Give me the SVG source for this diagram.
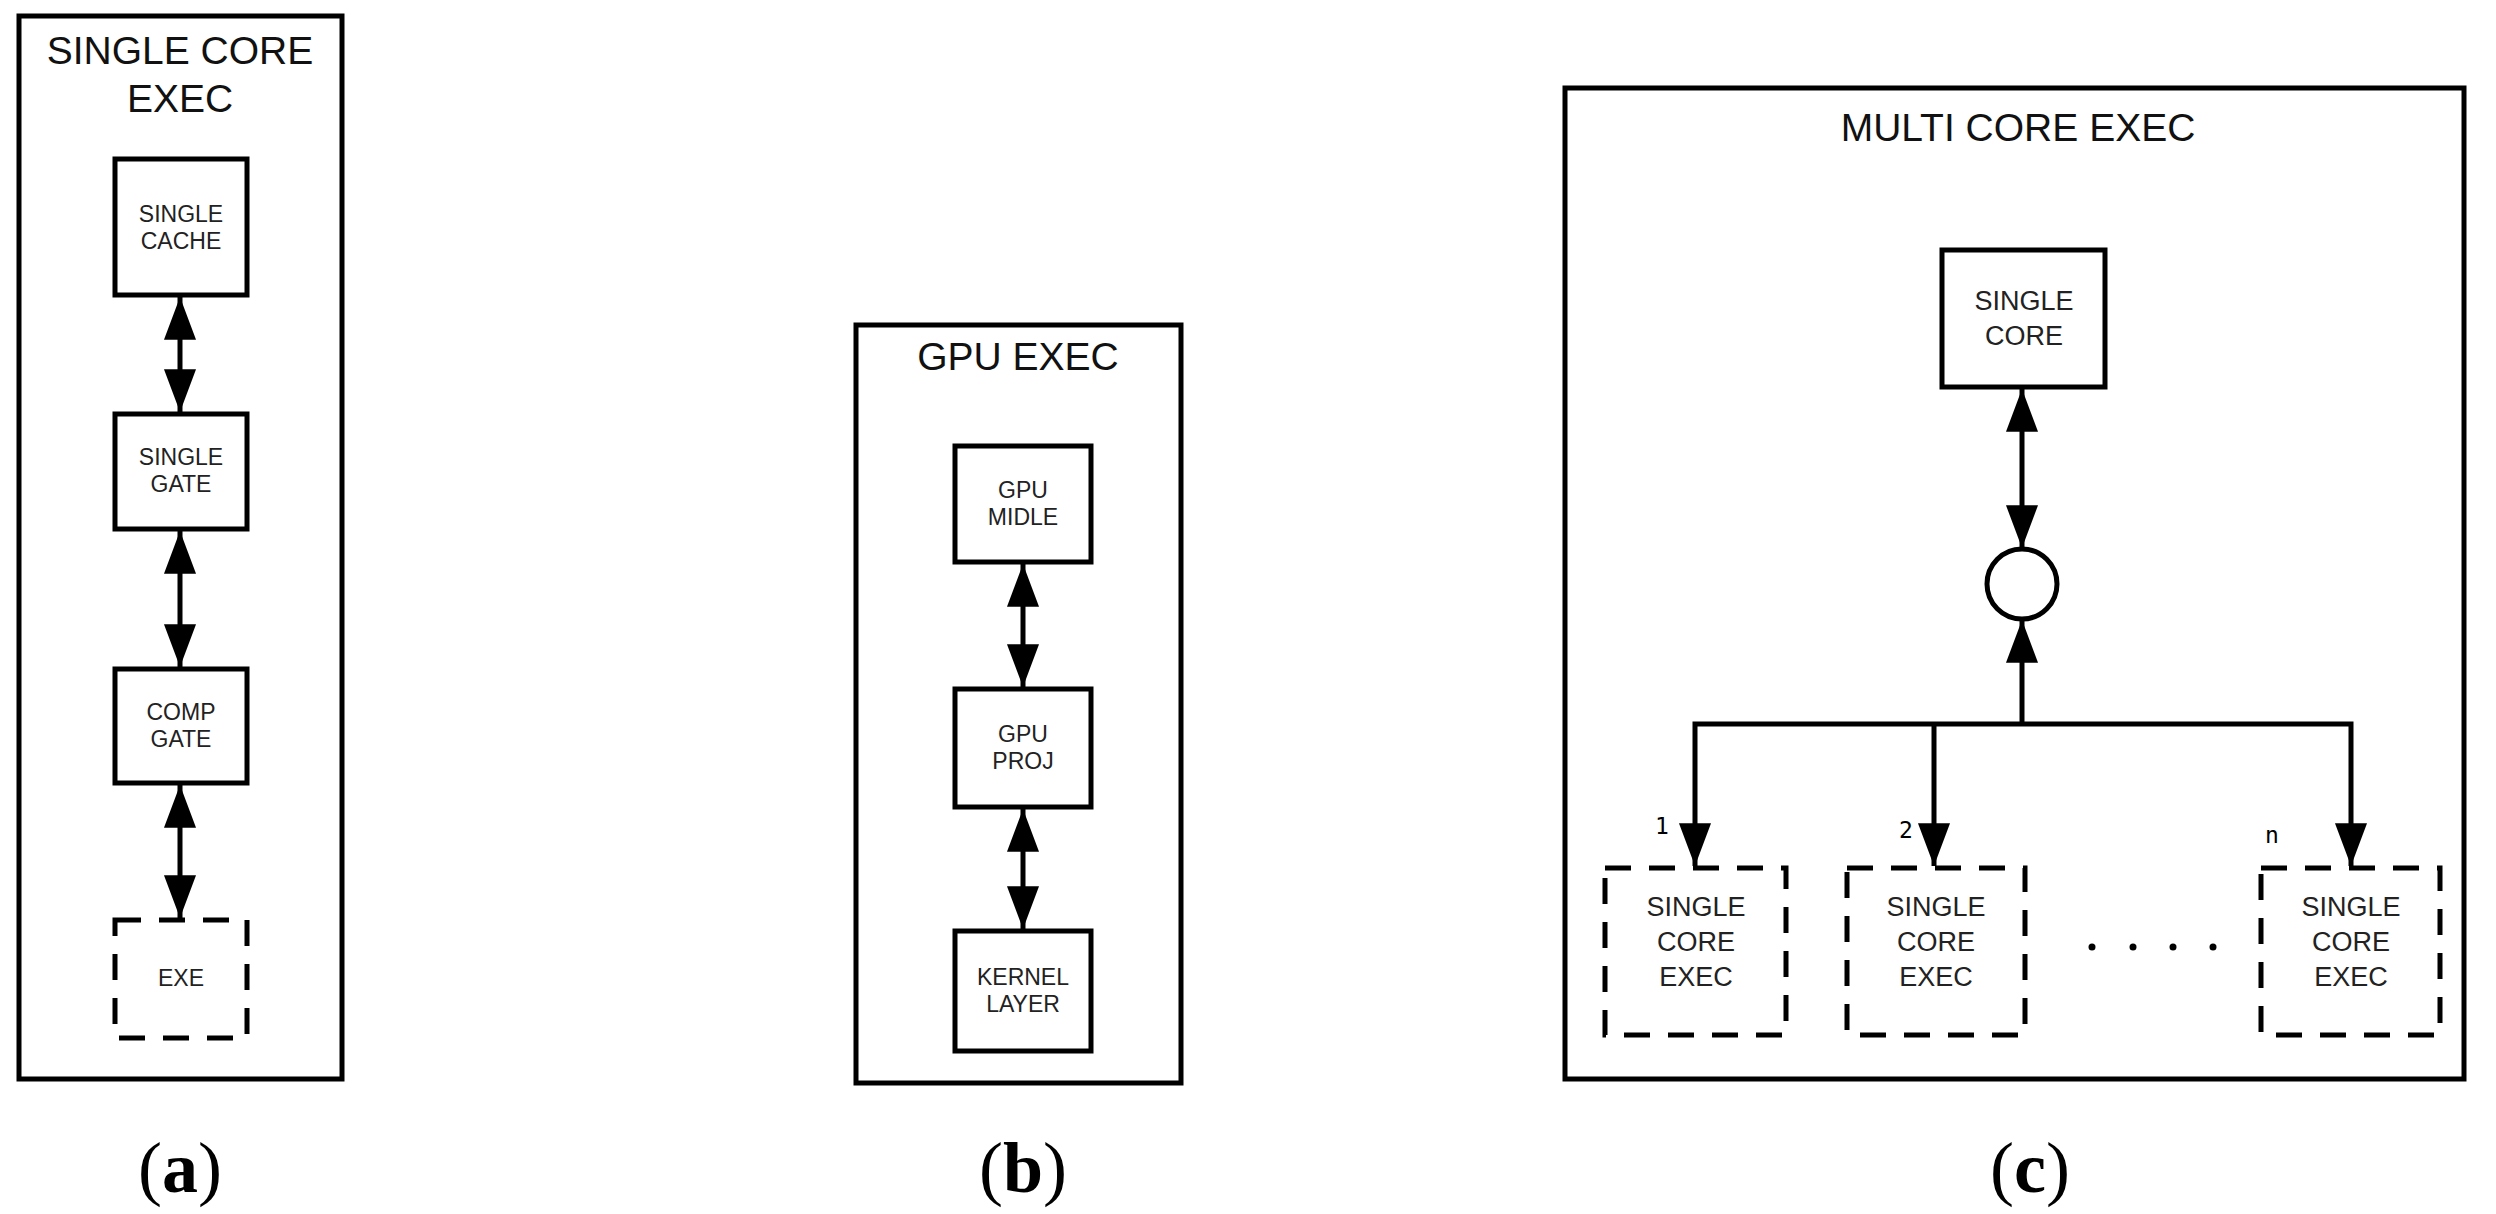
<svg xmlns="http://www.w3.org/2000/svg" width="2496" height="1214" viewBox="0 0 2496 1214">
<style>
.frame{fill:#fff;stroke:#000;stroke-width:5}
.box{fill:#fff;stroke:#000;stroke-width:5}
.dash{fill:#fff;stroke:#000;stroke-width:5;stroke-dasharray:26 18}
.t{font-family:"Liberation Sans",Arial,sans-serif;font-size:23px;fill:#222;text-anchor:middle}
.t2{font-family:"Liberation Sans",Arial,sans-serif;font-size:27px;fill:#222;text-anchor:middle}
.title{font-family:"Liberation Sans",Arial,sans-serif;font-size:39px;fill:#111;text-anchor:middle}
.num{font-family:"DejaVu Sans Mono",monospace;font-size:23px;fill:#000;text-anchor:middle}
.cap{font-family:"Liberation Serif",serif;font-size:72px;fill:#000;text-anchor:middle}
.ln{fill:none;stroke:#000;stroke-width:5}
</style>
<defs>
<marker id="ah" markerUnits="userSpaceOnUse" markerWidth="44" markerHeight="32" refX="40" refY="15" orient="auto-start-reverse" viewBox="0 0 40 30">
<path d="M0,0 L40,15 L0,30 Z" fill="#000"/>
</marker>
</defs>
<rect width="2496" height="1214" fill="#fff"/>
<g id="panel-a">
<rect class="frame" x="19" y="16" width="323" height="1063"/>
<text class="title" x="180" y="64">SINGLE CORE</text>
<text class="title" x="180" y="112">EXEC</text>
</g>
<g id="single-cache"><rect class="box" x="115" y="159" width="132" height="136"/><text class="t" x="181" y="222">SINGLE</text><text class="t" x="181" y="249">CACHE</text></g>
<g id="single-gate"><rect class="box" x="115" y="414" width="132" height="115"/><text class="t" x="181" y="465">SINGLE</text><text class="t" x="181" y="492">GATE</text></g>
<g id="comp-gate"><rect class="box" x="115" y="669" width="132" height="114"/><text class="t" x="181" y="720">COMP</text><text class="t" x="181" y="747">GATE</text></g>
<g id="exe"><rect class="dash" x="115" y="920" width="132" height="118"/><text class="t" x="181" y="986">EXE</text></g>
<g id="panel-b">
<rect class="frame" x="856" y="325" width="325" height="758"/>
<text class="title" x="1018" y="370">GPU EXEC</text>
</g>
<g id="gpu-midle"><rect class="box" x="955" y="446" width="136" height="116"/><text class="t" x="1023" y="498">GPU</text><text class="t" x="1023" y="525">MIDLE</text></g>
<g id="gpu-proj"><rect class="box" x="955" y="689" width="136" height="118"/><text class="t" x="1023" y="742">GPU</text><text class="t" x="1023" y="769">PROJ</text></g>
<g id="kernel-layer"><rect class="box" x="955" y="931" width="136" height="120"/><text class="t" x="1023" y="985">KERNEL</text><text class="t" x="1023" y="1012">LAYER</text></g>
<g id="panel-c">
<rect class="frame" x="1565" y="88" width="899" height="991"/>
<text class="title" x="2018" y="141">MULTI CORE EXEC</text>
</g>
<g id="single-core"><rect class="box" x="1942" y="250" width="163" height="137"/><text class="t2" x="2024" y="310">SINGLE</text><text class="t2" x="2024" y="345">CORE</text></g>
<g id="junction"><circle cx="2022" cy="584" r="35" fill="#fff" stroke="#000" stroke-width="5"/></g>
<g id="sce-1"><rect class="dash" x="1605" y="868" width="181" height="167"/><text class="t2" x="1696" y="916">SINGLE</text><text class="t2" x="1696" y="951">CORE</text><text class="t2" x="1696" y="986">EXEC</text></g>
<g id="sce-2"><rect class="dash" x="1847" y="868" width="178" height="167"/><text class="t2" x="1936" y="916">SINGLE</text><text class="t2" x="1936" y="951">CORE</text><text class="t2" x="1936" y="986">EXEC</text></g>
<g id="sce-n"><rect class="dash" x="2261" y="868" width="179" height="167"/><text class="t2" x="2351" y="916">SINGLE</text><text class="t2" x="2351" y="951">CORE</text><text class="t2" x="2351" y="986">EXEC</text></g>
<g id="dots" fill="#000"><circle cx="2092" cy="947" r="3.5"/><circle cx="2133" cy="947" r="3.5"/><circle cx="2173" cy="947" r="3.5"/><circle cx="2213" cy="947" r="3.5"/></g>
<g id="connectors">
<line class="ln" x1="180" y1="297" x2="180" y2="412" marker-start="url(#ah)" marker-end="url(#ah)"/>
<line class="ln" x1="180" y1="531" x2="180" y2="667" marker-start="url(#ah)" marker-end="url(#ah)"/>
<line class="ln" x1="180" y1="785" x2="180" y2="918" marker-start="url(#ah)" marker-end="url(#ah)"/>
<line class="ln" x1="1023" y1="564" x2="1023" y2="687" marker-start="url(#ah)" marker-end="url(#ah)"/>
<line class="ln" x1="1023" y1="809" x2="1023" y2="929" marker-start="url(#ah)" marker-end="url(#ah)"/>
<line class="ln" x1="2022" y1="389" x2="2022" y2="548" marker-start="url(#ah)" marker-end="url(#ah)"/>
<line class="ln" x1="2022" y1="724" x2="2022" y2="620" marker-end="url(#ah)"/>
<polyline class="ln" points="1695,866 1695,724 2351,724 2351,866" marker-start="url(#ah)" marker-end="url(#ah)"/>
<line class="ln" x1="1934" y1="724" x2="1934" y2="866" marker-end="url(#ah)"/>
<text class="num" x="1662" y="834">1</text>
<text class="num" x="1906" y="838">2</text>
<text class="num" x="2272" y="843">n</text>
</g>
<g id="captions">
<text class="cap" x="180" y="1192">(<tspan font-weight="bold">a</tspan>)</text>
<text class="cap" x="1023" y="1192">(<tspan font-weight="bold">b</tspan>)</text>
<text class="cap" x="2030" y="1192">(<tspan font-weight="bold">c</tspan>)</text>
</g>
</svg>
